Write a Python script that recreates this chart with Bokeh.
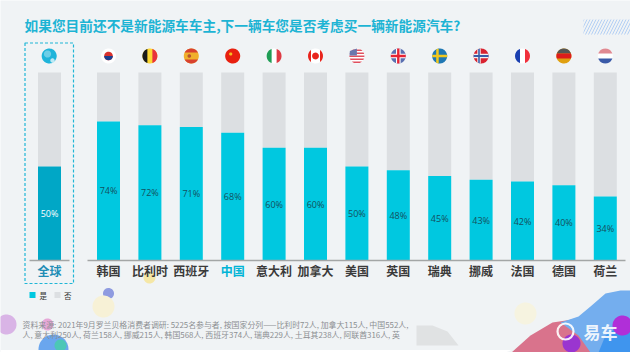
import numpy as np
from bokeh.plotting import figure
from bokeh.models import Range1d, ColumnDataSource
from bokeh.core.properties import value
from bokeh.embed import file_html
from bokeh.resources import INLINE

title_text = "如果您目前还不是新能源车车主,下一辆车您是否考虑买一辆新能源汽车?"
global_name = ["全球"]
global_yes = [50]
countries = ["韩国", "比利时", "西班牙", "中国", "意大利", "加拿大", "美国", "英国", "瑞典", "挪威", "法国", "德国", "荷兰"]
yes_values = [74, 72, 71, 68, 60, 60, 50, 48, 45, 43, 42, 40, 34]
legend_labels = ["是", "否"]
foot_1 = "资料来源:  2021年9月罗兰贝格消费者调研:  5225名参与者,  按国家分列——比利时72人,  加拿大115人,  中国552人,"
foot_2 = "人,  意大利250人,  荷兰158人,  挪威215人,  韩国568人,  西班牙374人,  瑞典229人,  土耳其238人,  阿联酋316人,  英"

FONT = value("Noto Sans CJK SC")
BG = "#f0f3f5"
YES = "#00c8e0"
YES_G = "#00a7c6"
NO = "#dcdfe2"
CYAN = "#1fb6d6"
W, H = 630, 352

# page pixel -> data helpers (decorations only)
SLOT = 41.4
UNIT = 1.88
def X(px): return (px - 108) / SLOT
def Y(py): return (260 - py) / UNIT

p = figure(width=W, height=H, x_range=Range1d(X(0), X(630)), y_range=Range1d(Y(352), Y(0)),
           output_backend="svg", toolbar_location=None, min_border=0,
           background_fill_color=BG, border_fill_color=BG, outline_line_color=None)
p.axis.visible = False
p.grid.visible = False

def blob(cx, cy, r, color, alpha=1.0):
    t = np.linspace(0, 2 * np.pi, 60)
    p.patch(X(cx + r * np.cos(t)), Y(cy + r * np.sin(t)), fill_color=color, fill_alpha=alpha, line_color=None)

def poly(pts, color, alpha=1.0):
    a = np.array(pts, dtype=float)
    p.patch(X(a[:, 0]), Y(a[:, 1]), fill_color=color, fill_alpha=alpha, line_color=None)

def vband(cx, cy, r, a, b, color):
    s = np.linspace(max(a, -r), min(b, r), 20)
    h = np.sqrt(np.maximum(r * r - s * s, 0))
    p.patch(X(np.r_[cx + s, cx + s[::-1]]), Y(np.r_[cy - h, cy + h[::-1]]), fill_color=color, line_color=None)

def hband(cx, cy, r, a, b, color):
    s = np.linspace(max(a, -r), min(b, r), 20)
    h = np.sqrt(np.maximum(r * r - s * s, 0))
    p.patch(X(np.r_[cx - h, cx + h[::-1]]), Y(np.r_[cy + s, cy + s[::-1]]), fill_color=color, line_color=None)

# decorations
poly([(511, 352), (530, 335), (552, 322), (572, 319), (585, 325), (592, 352)], "#d9738c")
poly([(560, 322), (578, 316), (590, 306), (605, 293), (620, 290), (630, 290), (630, 352), (590, 352), (578, 335)], "#74aeee")
poly([(598, 352), (605, 335), (618, 326), (630, 330), (630, 352)], "#3f95ee")
blob(622, 325, 10, "#b02fd8")
blob(571, 343, 9, "#9a35d0")
blob(6, 324, 10, "#d9b4e6")
blob(47, 324, 6, "#e6a8d8")
blob(53, 349, 15, "#6aa6ee")
blob(60, 345, 6, "#45cfa8", 0.8)
blob(108, 293, 5.5, "#8f9be0")
blob(103, 306, 11, "#f7f1d6")
blob(149, 277, 6, "#f5e7a6")
blob(525, 313, 11, "#f6f3e0")
poly([(416, 325), (432, 325), (447, 331), (458, 345), (416, 345)], "#e0e2e3")
poly([(0, 349.5), (511, 349.5), (505, 352), (0, 352)], "#ffffff")
p.quad(left=[X(583)], right=[X(630)], top=[Y(19)], bottom=[Y(34)], fill_color=None, line_color=None,
       hatch_pattern="right_diagonal_line", hatch_color="#b4d0f4", hatch_scale=6, hatch_weight=1)

# dashed box
p.quad(left=[X(24.5)], right=[X(73)], top=[Y(42.5)], bottom=[Y(283)], fill_color=None,
       line_color=CYAN, line_width=1.2, line_dash="3 2")

# bars
xs = list(range(len(countries)))
gx = [X(49)]
bw = 23 / SLOT
src = ColumnDataSource(dict(x=xs, yes=yes_values, full=[100] * len(xs), mid=[v / 2 for v in yes_values],
                            lab=[f"{v}%" for v in yes_values], name=countries,
                            col=["#00b4d6" if n == "中国" else "#3a3a3a" for n in countries]))
gsrc = ColumnDataSource(dict(x=gx, yes=global_yes, full=[100], mid=[v / 2 for v in global_yes],
                             lab=[f"{v}%" for v in global_yes], name=global_name))
for s, c in ((src, YES), (gsrc, YES_G)):
    p.vbar(x="x", width=bw, bottom="yes", top="full", source=s, fill_color=NO, line_color=None)
    p.vbar(x="x", width=bw, bottom=0, top="yes", source=s, fill_color=c, line_color=None)
p.text(x="x", y="mid", text="lab", source=src, text_font=value("Open Sans"), text_font_size="9px",
       text_color="#14505e", text_align="center", text_baseline="middle")
p.text(x="x", y="mid", text="lab", source=gsrc, text_font=value("Open Sans"), text_font_size="9px",
       text_color="#ffffff", text_align="center", text_baseline="middle")

# baselines
p.segment(x0=[X(29), X(87)], x1=[X(69), X(625)], y0=[0, 0], y1=[0, 0], line_color="#a3a6a6", line_width=1.6)

# category labels
cat_y = Y(270)
p.text(x="x", y=cat_y, text="name", source=src, text_font=FONT, text_font_size="12px", text_font_style="bold",
       text_color="col", text_align="center", text_baseline="middle")
p.text(x="x", y=cat_y, text="name", source=gsrc, text_font=FONT, text_font_size="12px", text_font_style="bold",
       text_color="#1f8db5", text_align="center", text_baseline="middle")

# title
p.text(x=[X(24)], y=[Y(24)], text=[title_text], text_font=FONT, text_font_size="13.7px", text_font_style="bold",
       text_color="#1db4d4", text_align="left", text_baseline="middle")

# legend
p.quad(left=[X(29), X(54)], right=[X(35), X(60)], top=[Y(291.5)] * 2, bottom=[Y(297.5)] * 2,
       fill_color=[YES, NO], line_color=None)
p.text(x=[X(39), X(63.5)], y=[Y(295)] * 2, text=legend_labels, text_font=FONT, text_font_size="7.5px",
       text_color="#333333", text_align="left", text_baseline="middle")

# footer
p.text(x=[X(22), X(22)], y=[Y(323.5), Y(333.5)], text=[foot_1, foot_2], text_font=FONT, text_font_size="7.9px",
       text_color="#8c8f92", text_align="left", text_baseline="middle")

# flags
fy = 55.5
fr = 7.5
fx = [108 + SLOT * i for i in xs]
flag_bases = ["#ffffff", "#fdd835", "#f0b02c", "#e8200f", "#ffffff", "#ffffff", "#ffffff", "#ffffff",
              "#1f78b4", "#d9222f", "#ffffff", "#e0a010", "#ffffff"]
blob(48.7, fy, fr, "#1fb4da")
blob(47, 53.5, 3.6, "#ffffff", 0.35)
blob(52, 60, 2.2, "#ffffff", 0.7)
for cx, c in zip(fx, flag_bases):
    blob(cx, fy, fr, c)
# Korea
blob(fx[0], fy, 4.3, "#d9322e"); hband(fx[0], fy, 4.3, 0, 4.3, "#1b3f8f")
# Belgium
vband(fx[1], fy, fr, -fr, -2.5, "#1a1a1a"); vband(fx[1], fy, fr, 2.5, fr, "#e8323c")
# Spain
hband(fx[2], fy, fr, -fr, -3.5, "#d8412f"); hband(fx[2], fy, fr, 3.5, fr, "#d8412f")
blob(fx[2] - 2, fy, 1.8, "#b8562e")
# China
blob(fx[3] - 2, fy - 2, 1.6, "#f5c020")
# Italy
vband(fx[4], fy, fr, -fr, -2.5, "#1f9d55"); vband(fx[4], fy, fr, 2.5, fr, "#dd3a44")
# Canada
vband(fx[5], fy, fr, -fr, -4.5, "#e8241c"); vband(fx[5], fy, fr, 4.5, fr, "#e8241c")
blob(fx[5], fy, 3.4, "#e8241c")
# USA
for a in (-6.6, -3.6, -0.6, 2.4, 5.4):
    hband(fx[6], fy, fr, a, a + 1.5, "#e0505e")
poly([(fx[6] - 7, fy - 5), (fx[6], fy - 7.5), (fx[6], fy - 0.5), (fx[6] - 7.4, fy - 0.5)], "#6a78ad")
# UK
blob(fx[7], fy, fr, "#5a6fb0")
hband(fx[7], fy, fr, -2.3, 2.3, "#ffffff"); vband(fx[7], fy, fr, -2.3, 2.3, "#ffffff")
hband(fx[7], fy, fr, -1.2, 1.2, "#e62233"); vband(fx[7], fy, fr, -1.2, 1.2, "#e62233")
# Sweden
hband(fx[8], fy, fr, -1.3, 1.3, "#f2c81e"); vband(fx[8], fy, fr, -3.5, -1, "#f2c81e")
# Norway
hband(fx[9], fy, fr, -2.2, 2.2, "#f2f2f2"); vband(fx[9], fy, fr, -3.8, -0.4, "#f2f2f2")
hband(fx[9], fy, fr, -1.1, 1.1, "#3a5ca8"); vband(fx[9], fy, fr, -2.9, -1.3, "#3a5ca8")
# France
vband(fx[10], fy, fr, -fr, -2.5, "#1a3fb0"); vband(fx[10], fy, fr, 2.5, fr, "#f0303c")
# Germany
hband(fx[11], fy, fr, -fr, -2.5, "#555555"); hband(fx[11], fy, fr, -2.5, 2.5, "#dd1c1c")
# Netherlands
hband(fx[12], fy, fr, -fr, -2.5, "#e08a92"); hband(fx[12], fy, fr, 2.5, fr, "#3a5aa8")

# logo
p.circle(x=[X(565)], y=[Y(331)], radius=8 / SLOT, fill_color=None, line_color="#ffffff", line_width=2.2, line_alpha=0.9)
p.text(x=[X(583)], y=[Y(331)], text=["易车"], text_font=FONT, text_font_size="17px", text_font_style="bold",
       text_color="#ffffff", text_alpha=0.9, text_align="left", text_baseline="middle")

open("out.html", "w").write(file_html(p, INLINE))
